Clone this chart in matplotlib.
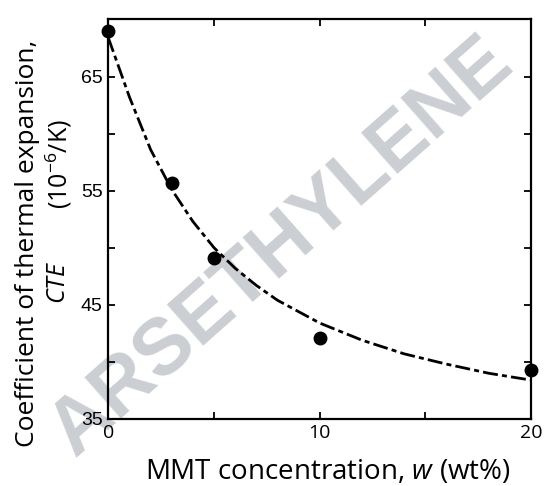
import matplotlib
matplotlib.use('Agg')
import matplotlib.pyplot as plt
from matplotlib.ticker import FixedLocator

plt.rcParams['mathtext.fontset'] = 'custom'
plt.rcParams['mathtext.rm'] = 'Open Sans'
plt.rcParams['mathtext.it'] = 'Open Sans:italic'

# measured CTE values
w_pts = [0, 3, 5, 10, 20]
cte_pts = [69.0, 55.7, 49.1, 42.1, 39.3]

# dash-dot fit curve
w_fit = [0, 1, 2, 3, 4, 5, 6, 7, 8, 10, 12, 14, 16, 18, 20]
cte_fit = [68.4, 63.2, 58.6, 55.1, 52.3, 50.0, 48.2, 46.7, 45.4, 43.4, 41.9, 40.7, 39.8, 39.0, 38.4]

x_ticklabels = ['0', '10', '20']
y_ticklabels = ['35', '45', '55', '65']

fig = plt.figure(figsize=(5.47, 4.86), dpi=100)
ax = fig.add_axes([0.198, 0.138, 0.773, 0.822])
ax.patch.set_alpha(0)

# faint watermark behind everything
fig.text(0.515, 0.49, 'ARSETHYLENE', rotation=41.5, rotation_mode='anchor',
         ha='center', va='center', fontsize=57, fontweight='bold',
         family='Liberation Sans', color='#cbcfd3', zorder=-1)

ax.plot(w_fit, cte_fit, color='black', lw=2.0, dashes=(5.4, 1.5, 1.8, 1.5),
        solid_capstyle='butt', dash_capstyle='butt')
ax.plot(w_pts, cte_pts, 'o', color='black', ms=9, clip_on=False, zorder=5)

ax.set_xlim(0, 20)
ax.set_ylim(35, 70)

ax.xaxis.set_major_locator(FixedLocator([0, 10, 20]))
ax.xaxis.set_minor_locator(FixedLocator([5, 15]))
ax.set_xticklabels(x_ticklabels, family='Open Sans', fontsize=14)
ax.yaxis.set_major_locator(FixedLocator([35, 45, 55, 65]))
ax.yaxis.set_minor_locator(FixedLocator([40, 50, 60]))
ax.set_yticklabels(y_ticklabels, family='Liberation Sans', fontsize=14)

ax.tick_params(which='both', direction='in', top=True, right=True, width=1.3)
ax.tick_params(which='major', length=5, pad=4)
ax.tick_params(which='minor', length=5)
for s in ax.spines.values():
    s.set_linewidth(1.6)

fig.text(0.60, 0.028, r'MMT concentration, $w$ (wt%)', ha='center', va='center',
         family='Open Sans', fontsize=20)
fig.text(0.050, 0.50, 'Coefficient of thermal expansion,', rotation=90,
         ha='center', va='center', family='Open Sans', fontsize=19)
fig.text(0.107, 0.418, r'$CTE$', rotation=90,
         ha='center', va='center', family='Open Sans', fontsize=18)
fig.text(0.107, 0.662, r'(10$^{-6}$/K)', rotation=90,
         ha='center', va='center', family='Open Sans', fontsize=18)

fig.savefig('out.png', dpi=100)
